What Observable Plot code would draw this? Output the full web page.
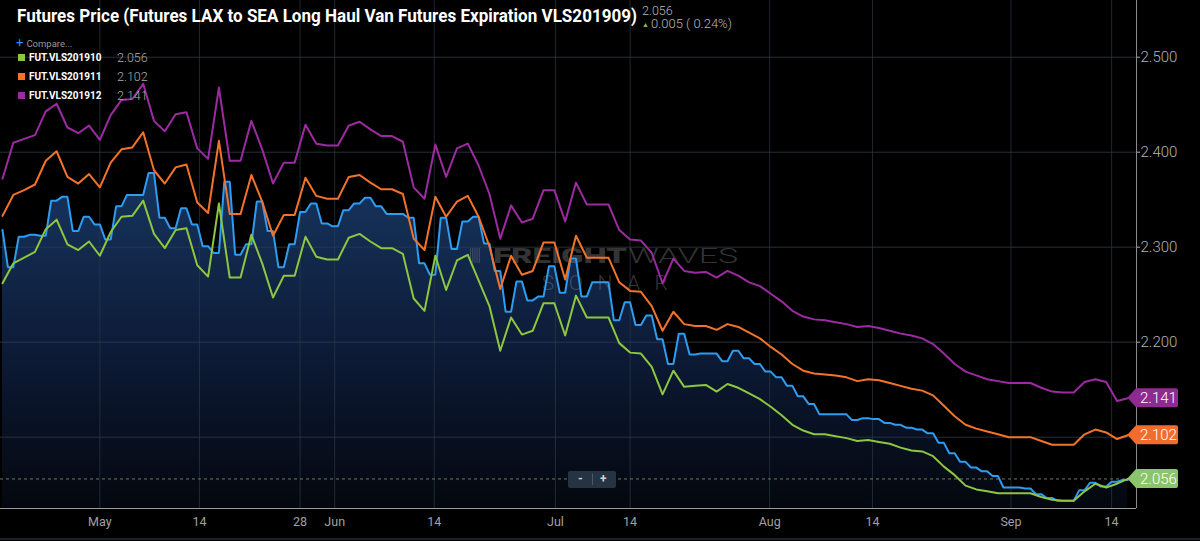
<!DOCTYPE html>
<html>
<head>
<meta charset="utf-8">
<script src="https://cdn.jsdelivr.net/npm/d3@7"></script>
<script src="https://cdn.jsdelivr.net/npm/@observablehq/plot@0.6"></script>
<style>
  html, body { margin:0; padding:0; background:#000; }
  #wrap { position:relative; width:1200px; height:541px; overflow:hidden; background:#000;
          font-family: Roboto, "Noto Sans", sans-serif; }
  #chart svg { display:block; }
  .abs { position:absolute; white-space:nowrap; }
  #title { left:17px; top:7px; font-size:18px; line-height:18px; font-weight:700; color:#fff; transform-origin:0 0; }
  #lastVal { left:642px; top:4px; font-size:12.5px; line-height:13px; color:#b8b8b8; font-weight:300; }
  #change { left:642px; top:17px; font-size:13px; line-height:13px; color:#b8b8b8; font-weight:300; }
  #change .up { color:#7cc24a; font-size:7px; position:relative; top:-1px; margin-right:2px; }
  #compare { left:16px; top:37px; font-size:9.5px; line-height:12px; color:#9a9a9a; }
  #compare .plus { color:#2b8df2; font-size:13px; margin-right:3px; }
  .leg { left:18px; height:14px; display:flex; align-items:center; }
  .leg .sw { width:7px; height:7px; margin-right:4px; }
  .leg .nm { font-size:10px; font-weight:700; color:#fff; width:88px; }
  .leg .vl { font-size:12.5px; font-weight:300; color:#ababab; }
  #zoomctl { left:568px; top:471px; width:48px; height:17px; background:#263342; border-radius:2px;
             color:#c9d1d9; font-size:12px; font-weight:700; line-height:17px; }
  #zoomctl span { position:absolute; top:0; }
  #zoomctl .sep { left:24px; top:3px; width:1px; height:11px; background:#4c5b6b; }
  #bottomline { left:0; top:538px; width:1200px; height:2px; background:#1a2129; }
</style>
</head>
<body>
<div id="wrap">
  <div id="chart"></div>
  <div id="title" class="abs">Futures Price (Futures LAX to SEA Long Haul Van Futures Expiration VLS201909)</div>
  <div id="lastVal" class="abs">2.056</div>
  <div id="change" class="abs"><span class="up">&#9650;</span>0.005 ( 0.24%)</div>
  <div id="compare" class="abs"><span class="plus">+</span>Compare...</div>
  <div id="legend"></div>
  <div id="zoomctl" class="abs"><span style="left:10px">-</span><span class="sep"></span><span style="left:32px">+</span></div>
  <div id="bottomline" class="abs"></div>
</div>
<script>
// ---- data (trading-day index 0..104, mid-April to mid-September 2019) ----
const vls201909 = [2.318,2.279,2.311,2.313,2.312,2.349,2.353,2.317,2.332,2.324,
 2.308,2.343,2.355,2.355,2.378,2.331,2.320,2.341,2.324,2.301,
 2.294,2.369,2.292,2.303,2.348,2.317,2.279,2.303,2.337,2.346,
 2.325,2.322,2.339,2.346,2.352,2.343,2.335,2.335,2.331,2.283,
 2.271,2.331,2.298,2.327,2.332,2.304,2.275,2.232,2.264,2.244,
 2.248,2.280,2.252,2.288,2.248,2.263,2.263,2.223,2.242,2.218,
 2.228,2.203,2.177,2.209,2.187,2.188,2.188,2.180,2.191,2.183,
 2.177,2.169,2.163,2.154,2.143,2.135,2.124,2.124,2.124,2.118,
 2.120,2.119,2.115,2.113,2.110,2.108,2.104,2.094,2.083,2.074,
 2.068,2.064,2.059,2.047,2.047,2.046,2.040,2.036,2.033,2.033,
 2.044,2.052,2.048,2.053,2.055];
const vls201910 = [2.262,2.283,2.289,2.295,2.319,2.329,2.303,2.297,2.306,2.291,
 2.316,2.332,2.333,2.349,2.314,2.299,2.318,2.320,2.281,2.269,
 2.346,2.268,2.268,2.313,2.283,2.247,2.270,2.270,2.311,2.290,
 2.287,2.287,2.310,2.314,2.306,2.299,2.299,2.293,2.246,2.233,
 2.291,2.255,2.286,2.292,2.265,2.238,2.191,2.226,2.208,2.212,
 2.241,2.241,2.207,2.249,2.226,2.226,2.226,2.199,2.189,2.188,
 2.174,2.145,2.170,2.153,2.154,2.155,2.148,2.156,2.152,2.146,
 2.140,2.132,2.123,2.113,2.107,2.103,2.103,2.101,2.099,2.096,
 2.097,2.095,2.093,2.089,2.086,2.085,2.080,2.069,2.060,2.049,
 2.045,2.043,2.041,2.041,2.041,2.041,2.037,2.034,2.033,2.033,
 2.043,2.051,2.047,2.051,2.056];
const vls201911 = [2.333,2.355,2.360,2.366,2.391,2.401,2.374,2.367,2.377,2.363,
 2.389,2.403,2.405,2.421,2.381,2.367,2.384,2.387,2.347,2.336,
 2.412,2.335,2.335,2.376,2.348,2.312,2.334,2.334,2.373,2.354,
 2.351,2.351,2.374,2.376,2.368,2.361,2.361,2.356,2.309,2.297,
 2.353,2.332,2.348,2.354,2.332,2.301,2.256,2.291,2.271,2.275,
 2.305,2.305,2.266,2.312,2.289,2.289,2.289,2.263,2.254,2.253,
 2.238,2.212,2.232,2.219,2.217,2.217,2.213,2.219,2.216,2.210,
 2.204,2.195,2.187,2.177,2.170,2.167,2.166,2.165,2.163,2.159,
 2.161,2.160,2.157,2.154,2.151,2.149,2.144,2.133,2.122,2.113,
 2.109,2.106,2.103,2.100,2.100,2.100,2.096,2.092,2.092,2.092,
 2.103,2.108,2.105,2.098,2.102];
const vls201912 = [2.372,2.410,2.414,2.418,2.443,2.451,2.426,2.420,2.428,2.413,
 2.439,2.455,2.456,2.472,2.433,2.422,2.440,2.442,2.404,2.393,
 2.468,2.391,2.391,2.433,2.403,2.367,2.389,2.389,2.429,2.409,
 2.407,2.407,2.428,2.432,2.424,2.417,2.417,2.411,2.363,2.351,
 2.408,2.374,2.404,2.409,2.386,2.356,2.309,2.344,2.326,2.330,
 2.360,2.360,2.327,2.368,2.345,2.345,2.345,2.318,2.308,2.307,
 2.294,2.262,2.288,2.275,2.273,2.274,2.268,2.275,2.270,2.263,
 2.259,2.251,2.243,2.233,2.227,2.224,2.223,2.221,2.219,2.216,
 2.217,2.215,2.212,2.209,2.207,2.204,2.198,2.188,2.177,2.169,
 2.165,2.161,2.159,2.157,2.157,2.157,2.152,2.148,2.147,2.147,
 2.158,2.161,2.158,2.138,2.141];

const compareNames = ["FUT.VLS201910", "FUT.VLS201911", "FUT.VLS201912"];
const compareColors = ["#8dc63f", "#f4732b", "#9c2ba1"];
const tagColors = ["#8bc46b", "#f26d2c", "#8e2b90"];
const mainColor = "#2d9cf1";

// x tick positions on the trading-day index, with their labels
const xTickIndex  = [9.0, 18.2, 27.5, 30.7, 39.9, 51.1, 58.0, 70.9, 80.4, 93.2, 102.5];
const xTickLabels = ["May", "14", "28", "Jun", "14", "Jul", "14", "Aug", "14", "Sep", "14"];
const yGrid = [2.1, 2.2, 2.3, 2.4, 2.5];
const yTickLabels = [2.2, 2.3, 2.4, 2.5]; // 2.100 sits under the orange value tag
const xDomain = [-0.185, 104.8];
const yDomain = [2.0249, 2.5597];

// ---- helpers ----
const fmt = d3.format(".3f");
const idx = d3.range(vls201909.length);
const last = idx.length - 1;
const compareSeries = [vls201910, vls201911, vls201912];

// Curve: each point holds its value for half a step, then slopes to the next
function Plateau(context) { this._context = context; }
Plateau.prototype = {
  areaStart() { this._line = 0; },
  areaEnd() { this._line = NaN; },
  lineStart() { this._point = 0; },
  lineEnd() {
    if (this._line || (this._line !== 0 && this._point === 1)) this._context.closePath();
    this._line = 1 - this._line;
  },
  point(x, y) {
    x = +x; y = +y;
    if (this._point === 0) {
      this._point = 1;
      this._line ? this._context.lineTo(x, y) : this._context.moveTo(x, y);
    } else {
      this._point = 2;
      const dx = x - this._x;
      this._context.lineTo(x - dx / 2, y);
      this._context.lineTo(x, y);
    }
    this._x = x;
  }
};
const plateauCurve = (ctx) => new Plateau(ctx);

function watermark(index, scales, values, dims) {
  const fx = (f) => dims.marginLeft + (dims.width - dims.marginLeft - dims.marginRight) * f;
  const fy = (f) => dims.marginTop + (dims.height - dims.marginTop - dims.marginBottom) * f;
  const g = d3.create("svg:g").attr("font-family", "Roboto, sans-serif").attr("text-anchor", "start")
    .attr("fill", "#8c8c8c").attr("fill-opacity", 0.38);
  for (let k = 0; k < 5; k++) {
    g.append("rect").attr("x", fx(0.4137) + k * 2.2).attr("y", fy(0.488))
      .attr("width", 1.1).attr("height", 15);
  }
  g.append("text").attr("x", fx(0.434)).attr("y", fy(0.518)).attr("font-size", 21)
    .attr("font-weight", 900).attr("textLength", 134).attr("lengthAdjust", "spacingAndGlyphs").text("FREIGHT");
  g.append("text").attr("x", fx(0.553)).attr("y", fy(0.518)).attr("font-size", 21)
    .attr("font-weight", 300).attr("textLength", 110).attr("lengthAdjust", "spacingAndGlyphs").text("WAVES");
  g.append("text").attr("x", fx(0.477)).attr("y", fy(0.571)).attr("font-size", 21)
    .attr("font-weight", 300).attr("textLength", 126).attr("lengthAdjust", "spacing").text("SONAR");
  return g.node();
}

function valueTags(index, scales, values, dims) {
  const g = d3.create("svg:g").attr("font-family", "Roboto, sans-serif").attr("text-anchor", "start");
  const xTip = scales.x(last);
  const xa = dims.width - dims.marginRight;
  const w = 42, h = 19, r = 2;
  compareSeries.forEach((s, k) => {
    const cy = scales.y(s[last]);
    const t = cy - h / 2, b = cy + h / 2, rx = xa + w;
    g.append("path")
      .attr("d", `M${xTip},${cy}L${xa},${t}H${rx - r}Q${rx},${t} ${rx},${t + r}V${b - r}Q${rx},${b} ${rx - r},${b}H${xa}Z`)
      .attr("fill", tagColors[k]);
    g.append("text").attr("x", xa + 4).attr("y", cy).attr("dy", "0.36em")
      .attr("font-size", 15).attr("font-weight", 300).attr("fill", "#fff").text(fmt(s[last]));
  });
  return g.node();
}

const chart = Plot.plot({
  width: 1200,
  height: 541,
  marginLeft: 0,
  marginRight: 64,
  marginTop: 0,
  marginBottom: 33,
  style: { background: "#000", overflow: "visible", fontFamily: "Roboto, sans-serif" },
  x: { type: "linear", domain: xDomain },
  y: { domain: yDomain },
  marks: [
    Plot.areaY(idx, { x: (i) => i, y1: yDomain[0], y2: (i) => vls201909[i],
      fill: "url(#blueFade)", curve: plateauCurve }),
    Plot.gridX(xTickIndex, { stroke: "#2e3c4a", strokeOpacity: 0.65 }),
    Plot.gridY(yGrid, { stroke: "#2e3c4a", strokeOpacity: 0.8 }),
    watermark,
    Plot.ruleY([vls201910[last]], { stroke: "#6f8f69", strokeDasharray: "3,3", strokeOpacity: 0.9 }),
    Plot.line(idx, { x: (i) => i, y: (i) => vls201909[i], stroke: mainColor, strokeWidth: 2,
      curve: plateauCurve, strokeLinejoin: "miter" }),
    ...compareSeries.map((s, k) => Plot.line(idx, { x: (i) => i, y: (i) => s[i],
      stroke: compareColors[k], strokeWidth: 2 })),
    Plot.ruleX([xDomain[1]], { stroke: "#8a8a8a" }),
    Plot.ruleY([yDomain[0]], { stroke: "#9a9a9a" }),
    Plot.axisY(yTickLabels, { anchor: "right", tickSize: 3, tickPadding: 1, tickFormat: fmt,
      fontSize: 15, fontWeight: 300, color: "#b3b3b3", label: null }),
    Plot.axisX(xTickIndex, { anchor: "bottom", tickSize: 0, tickPadding: 9,
      tickFormat: (d) => xTickLabels[xTickIndex.indexOf(d)],
      fontSize: 12.5, color: "#a0a0a0", label: null }),
    valueTags
  ]
});

// gradient for the filled area
const defs = d3.select(chart).insert("defs", ":first-child");
const grad = defs.append("linearGradient").attr("id", "blueFade")
  .attr("x1", 0).attr("x2", 0).attr("y1", 0).attr("y2", 1);
grad.append("stop").attr("offset", "0%").attr("stop-color", "#17355f");
grad.append("stop").attr("offset", "55%").attr("stop-color", "#0c1a35");
grad.append("stop").attr("offset", "100%").attr("stop-color", "#04070e");

document.getElementById("chart").appendChild(chart);

// legend
const leg = document.getElementById("legend");
const legTops = [50, 69, 88];
compareNames.forEach((name, k) => {
  const row = document.createElement("div");
  row.className = "abs leg";
  row.style.top = legTops[k] + "px";
  row.innerHTML = `<span class="sw" style="background:${compareColors[k]}"></span>` +
    `<span class="nm">${name}</span><span class="vl">${fmt(compareSeries[k][last])}</span>`;
  leg.appendChild(row);
});

// condense title to the reference width
function fitTitle() {
  const t = document.getElementById("title");
  t.style.transform = "none";
  const w = t.getBoundingClientRect().width;
  if (w > 0) t.style.transform = `scaleX(${620 / w})`;
}
fitTitle();
if (document.fonts && document.fonts.ready) document.fonts.ready.then(fitTitle);
</script>
</body>
</html>
